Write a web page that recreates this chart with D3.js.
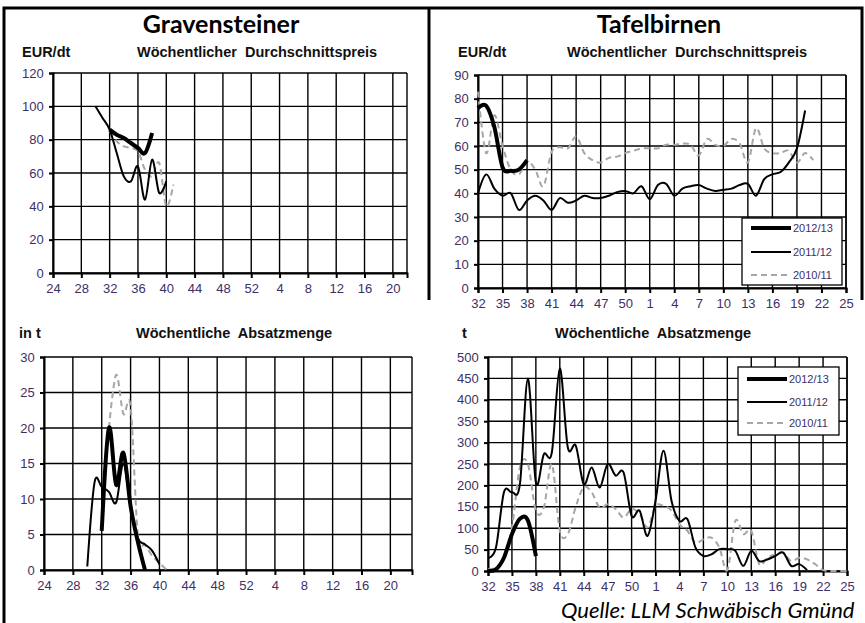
<!DOCTYPE html>
<html>
<head>
<meta charset="utf-8">
<script src="https://cdn.jsdelivr.net/npm/d3@7"></script>
<style>
  body { margin: 0; background: #fff; }
  svg text { font-family: "Liberation Sans", Arial, sans-serif; }
  .tick text { fill: #3d2f66; font-size: 13px; }
  .head { font-weight: bold; font-size: 14.5px; fill: #111; white-space: pre; }
  .title { font-family: Lato, "Noto Sans", sans-serif !important; font-weight: bold; font-size: 25px; }
  .src { font-family: Lato, "Noto Sans", sans-serif !important; font-style: italic; font-size: 22px; }
  .leg { font-size: 11px; fill: #3d2f66; }
</style>
</head>
<body>
<div id="chart"></div>
<script>
// tick labels (calendar weeks)
var gravTickWeeks = [24, 28, 32, 36, 40, 44, 48, 52, 4, 8, 12, 16, 20];
var birnTickWeeks = [32, 35, 38, 41, 44, 47, 50, 1, 4, 7, 10, 13, 16, 19, 22, 25];
var seasons = ["2012/13", "2011/12", "2010/11"];

// Gravensteiner - price EUR/dt
var gravPriceWeeks13 = [32, 33, 34, 35, 36, 37, 38];
var gravPrice13 = [86, 83, 81, 78, 75, 72, 84];
var gravPriceWeeks12 = [30, 31, 32, 33, 34, 35, 36, 37, 38, 39, 40];
var gravPrice12 = [100, 93, 86, 72, 58, 55, 64, 44, 68, 48, 55];
var gravPriceWeeks11 = [32, 33, 34, 35, 36, 37, 38, 39, 40, 41];
var gravPrice11 = [85, 79, 76, 75, 73, 62, 58, 66, 40, 53];

// Gravensteiner - quantity in t
var gravQtyWeeks13 = [32, 33, 34, 35, 36, 37, 38];
var gravQty13 = [5.5, 20, 12, 16.5, 9, 4, 0];
var gravQtyWeeks12 = [30, 31, 32, 33, 34, 35, 36, 37, 38, 39, 40];
var gravQty12 = [0.5, 12.3, 11.7, 11, 9.5, 15, 9, 4.5, 3.6, 2.7, 0.8];
var gravQtyWeeks11 = [33, 34, 35, 36, 37, 38, 39, 40, 41];
var gravQty11 = [20, 27.5, 22, 23, 5, 3.5, 2, 1, 0];

// Tafelbirnen - price EUR/dt
var birnWeeks13 = [32, 33, 34, 35, 36, 37, 38];
var birnWeeks12 = [32, 33, 34, 35, 36, 37, 38, 39, 40, 41, 42, 43, 44, 45, 46, 47, 48, 49, 50, 51, 52,
  1, 2, 3, 4, 5, 6, 7, 8, 9, 10, 11, 12, 13, 14, 15, 16, 17, 18, 19, 20];
var birnPriceWeeks11 = [32, 33, 34, 35, 36, 37, 38, 39, 40, 41, 42, 43, 44, 45, 46, 47, 48, 49, 50, 51, 52,
  1, 2, 3, 4, 5, 6, 7, 8, 9, 10, 11, 12, 13, 14, 15, 16, 17, 18, 19, 20, 21];
var birnPrice13 = [76, 77, 68, 51, 49.5, 50, 54];
var birnPrice12 = [40, 48, 42, 39, 40, 33, 37, 39, 37, 33, 38, 36, 37, 39, 38, 38, 39, 40.5, 41, 40, 43,
  37.5, 43.5, 44, 39, 42, 43, 43.5, 42, 41, 41.5, 42, 43.5, 44, 39, 46, 48, 49, 53, 59, 75];
var birnPrice11 = [83, 57, 73, 60, 50, 48, 53.5, 50, 43, 57.5, 59.5, 59, 64, 57, 54, 53, 55, 55.5, 57, 58, 59,
  59, 59, 60.5, 60.5, 61, 60.5, 56, 63, 60.5, 60, 63, 61, 53, 67.5, 59, 57, 57, 58, 53, 57, 54];

// Tafelbirnen - quantity t
var birnQtyWeeks11 = [32, 33, 34, 35, 36, 37, 38, 39, 40, 41, 42, 43, 44, 45, 46, 47, 48, 49, 50, 51, 52,
  1, 2, 3, 4, 5, 6, 7, 8, 9, 10, 11, 12, 13, 14, 15, 16, 17, 18, 19, 20, 21, 22, 23, 24, 25];
var birnQty13 = [0, 4, 31, 86, 122, 118, 35];
var birnQty12 = [31, 55, 184, 184, 203, 449, 207, 273, 277, 473, 289, 293, 203, 242, 195, 250, 223, 230, 129, 141, 82,
  164, 281, 164, 117, 121, 55, 35, 39, 51, 51, 47, 12, 47, 23, 27, 35, 43, 12, 16, 2];
var birnQty11 = [4, 8, 31, 102, 242, 250, 141, 148, 250, 94, 86, 150, 196, 184, 148, 156, 145, 125, 145, 133, 102,
  152, 152, 141, 109, 94, 66, 74, 78, 55, 2, 117, 86, 94, 16, 31, 39, 43, 23, 31, 27, 16, 2, 0, 0, 0];

var svgWidth = 865;
var svgHeight = 623;

var svg = d3.select("#chart").append("svg")
  .attr("width", svgWidth)
  .attr("height", svgHeight);

// line styles per season
var styles = {
  "2012/13": { color: "#000", width: 4, dash: null },
  "2011/12": { color: "#000", width: 2, dash: null },
  "2010/11": { color: "#a6a6a6", width: 2, dash: "6,4" }
};

// week number -> position on the season axis
function gravIdx(w) { return w >= 24 ? w - 24 : w + 28; }
function birnIdx(w) { return w >= 32 ? w - 32 : w + 20; }

function drawPanel(p) {
  var x = d3.scaleLinear().domain([0, p.xMax]).range([p.left, p.right]);
  var y = d3.scaleLinear().domain([0, p.yMax]).range([p.bottom, p.top]);
  var yTicks = d3.range(0, p.yMax + 0.001, p.yStep);
  var xTicks = p.ticks.map(p.idx);

  var g = svg.append("g");

  // grid
  g.selectAll(".hgrid").data(yTicks).enter().append("line")
    .attr("x1", p.left).attr("x2", p.right)
    .attr("y1", d => y(d)).attr("y2", d => y(d))
    .attr("stroke", "#000").attr("stroke-width", 1.4);
  g.selectAll(".vgrid").data(xTicks.concat([p.xMax])).enter().append("line")
    .attr("x1", d => x(d)).attr("x2", d => x(d))
    .attr("y1", p.top).attr("y2", p.bottom)
    .attr("stroke", "#000").attr("stroke-width", 1.4);

  // axes
  var yAxis = d3.axisLeft(y).tickValues(yTicks).tickSize(4).tickPadding(4);
  var xAxis = d3.axisBottom(x).tickValues(xTicks).tickSize(5).tickPadding(6)
    .tickFormat((d, i) => p.ticks[i]);

  var ya = g.append("g").attr("transform", `translate(${p.left},0)`).call(yAxis);
  var xa = g.append("g").attr("transform", `translate(0,${p.bottom})`).call(xAxis);
  [ya, xa].forEach(function(a) {
    a.select(".domain").attr("stroke", "#000").attr("stroke-width", 2);
    a.selectAll(".tick line").attr("stroke", "#000").attr("stroke-width", 2);
    a.selectAll(".tick text").attr("font-size", null).attr("font-family", null).attr("fill", null);
  });
  ya.selectAll(".tick text").attr("dx", "-0.1em");

  // series
  var line = d3.line()
    .x(d => x(p.idx(d[0])))
    .y(d => y(d[1]))
    .curve(d3.curveCatmullRom.alpha(0));

  p.series.slice().reverse().forEach(function(s) {
    var st = styles[s.name];
    var pts = s.weeks.map((w, i) => [w, s.values[i]]);
    g.append("path")
      .attr("d", line(pts))
      .attr("fill", "none")
      .attr("stroke", st.color)
      .attr("stroke-width", st.width)
      .attr("stroke-dasharray", st.dash)
      .attr("stroke-linejoin", "round");
  });

  // headings
  g.append("text").attr("class", "head").attr("x", p.unitX).attr("y", p.headY).text(p.unit);
  g.append("text").attr("class", "head").attr("x", p.subX).attr("y", p.headY).text(p.sub);

  // legend
  if (p.legend) {
    var L = p.legend;
    g.append("rect")
      .attr("x", L.x).attr("y", L.y).attr("width", L.w).attr("height", L.h)
      .attr("fill", "#fff").attr("stroke", "#000").attr("stroke-width", 1.3);
    seasons.forEach(function(name, i) {
      var st = styles[name];
      var ly = L.y + L.rows[i];
      g.append("line")
        .attr("x1", L.x + 9).attr("x2", L.x + 49)
        .attr("y1", ly).attr("y2", ly)
        .attr("stroke", st.color).attr("stroke-width", st.width)
        .attr("stroke-dasharray", st.dash);
      g.append("text").attr("class", "leg")
        .attr("x", L.x + 51).attr("y", ly + 4).text(name);
    });
  }
}

// frame
svg.append("path")
  .attr("d", "M4,623 V8 H862 V300 M429,8 V300")
  .attr("fill", "none").attr("stroke", "#000").attr("stroke-width", 3);

// titles
svg.append("text").attr("class", "title").attr("x", 221).attr("y", 33)
  .attr("text-anchor", "middle").text("Gravensteiner");
svg.append("text").attr("class", "title").attr("x", 659).attr("y", 33)
  .attr("text-anchor", "middle").text("Tafelbirnen");

drawPanel({
  left: 53, right: 407, top: 73, bottom: 273, xMax: 50,
  yMax: 120, yStep: 20, ticks: gravTickWeeks, idx: gravIdx,
  unit: "EUR/dt", unitX: 22, sub: "Wöchentlicher  Durchschnittspreis", subX: 137, headY: 57,
  series: [
    { name: "2012/13", weeks: gravPriceWeeks13, values: gravPrice13 },
    { name: "2011/12", weeks: gravPriceWeeks12, values: gravPrice12 },
    { name: "2010/11", weeks: gravPriceWeeks11, values: gravPrice11 }
  ]
});

drawPanel({
  left: 44, right: 412, top: 357, bottom: 570, xMax: 51,
  yMax: 30, yStep: 5, ticks: gravTickWeeks, idx: gravIdx,
  unit: "in t", unitX: 19, sub: "Wöchentliche  Absatzmenge", subX: 136, headY: 338,
  series: [
    { name: "2012/13", weeks: gravQtyWeeks13, values: gravQty13 },
    { name: "2011/12", weeks: gravQtyWeeks12, values: gravQty12 },
    { name: "2010/11", weeks: gravQtyWeeks11, values: gravQty11 }
  ]
});

drawPanel({
  left: 478, right: 846, top: 75, bottom: 288, xMax: 45,
  yMax: 90, yStep: 10, ticks: birnTickWeeks, idx: birnIdx,
  unit: "EUR/dt", unitX: 458, sub: "Wöchentlicher  Durchschnittspreis", subX: 567, headY: 57,
  series: [
    { name: "2012/13", weeks: birnWeeks13, values: birnPrice13 },
    { name: "2011/12", weeks: birnWeeks12, values: birnPrice12 },
    { name: "2010/11", weeks: birnPriceWeeks11, values: birnPrice11 }
  ],
  legend: { x: 742, y: 218, w: 100, h: 67, rows: [10, 34, 57] }
});

drawPanel({
  left: 488, right: 847, top: 357, bottom: 571, xMax: 45,
  yMax: 500, yStep: 50, ticks: birnTickWeeks, idx: birnIdx,
  unit: "t", unitX: 462, sub: "Wöchentliche  Absatzmenge", subX: 555, headY: 338,
  series: [
    { name: "2012/13", weeks: birnWeeks13, values: birnQty13 },
    { name: "2011/12", weeks: birnWeeks12, values: birnQty12 },
    { name: "2010/11", weeks: birnQtyWeeks11, values: birnQty11 }
  ],
  legend: { x: 738, y: 367, w: 101, h: 68, rows: [12, 35, 56] }
});

// source note
svg.append("text").attr("class", "src").attr("x", 561).attr("y", 618)
  .text("Quelle: LLM Schwäbisch Gmünd");
</script>
</body>
</html>
